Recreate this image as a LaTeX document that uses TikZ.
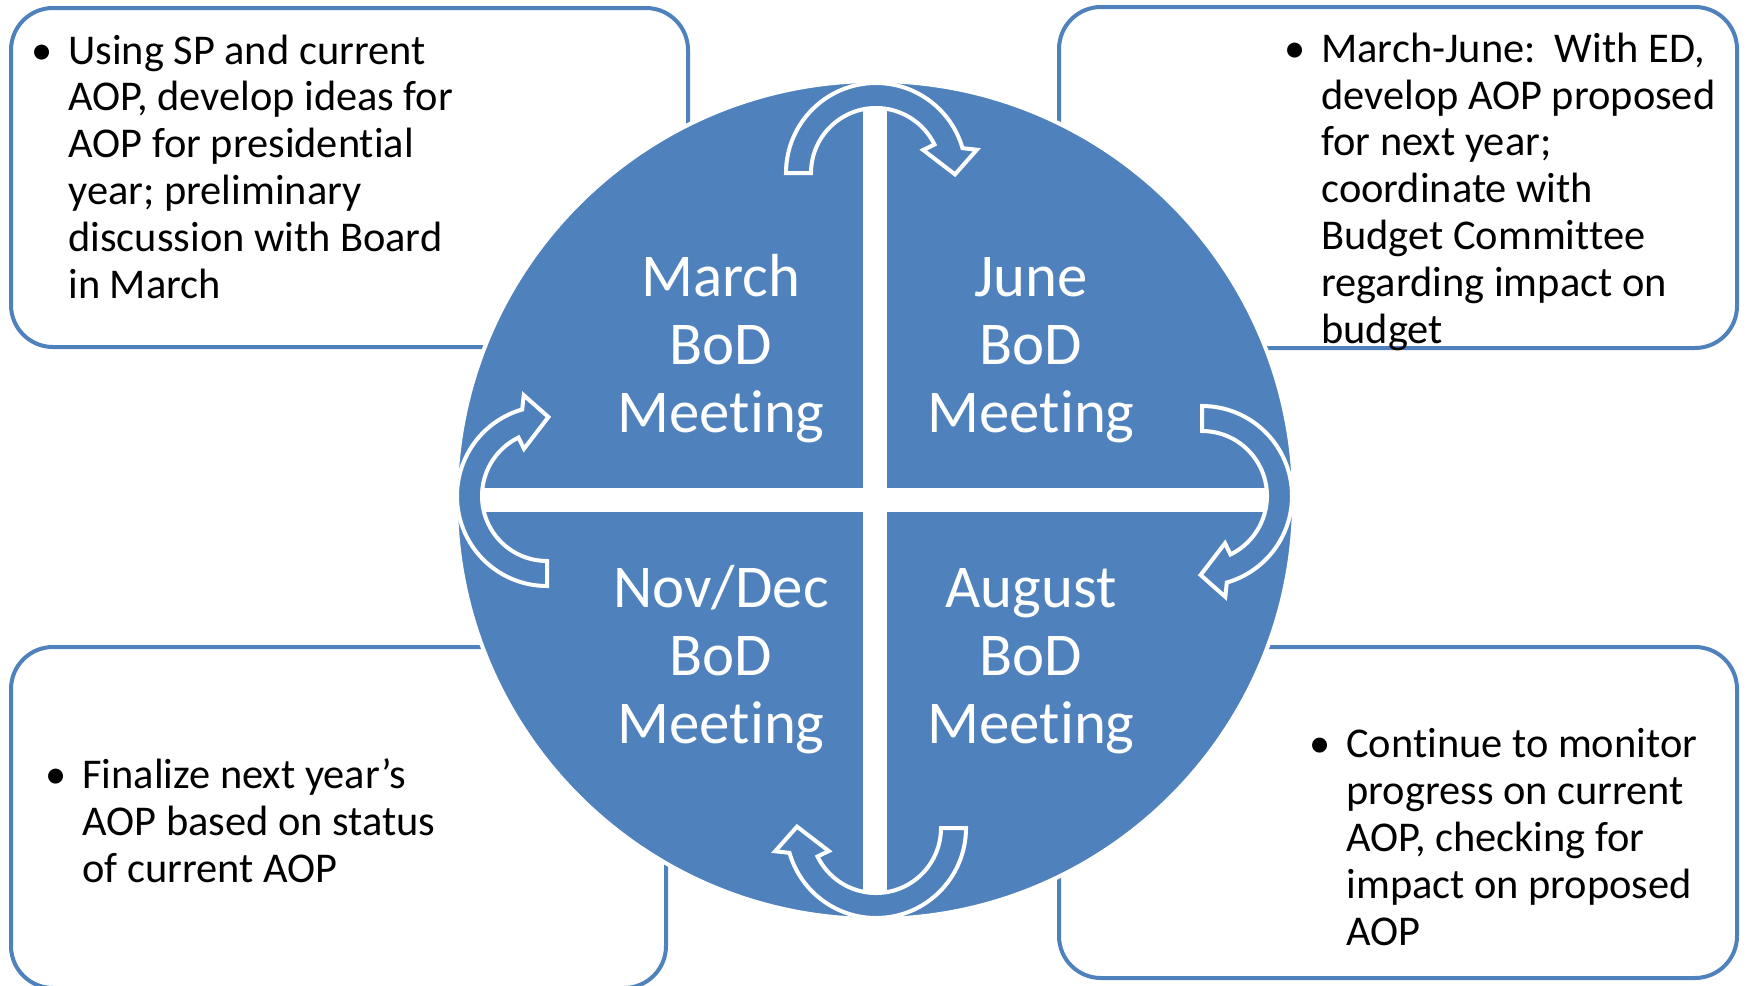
\documentclass[tikz,border=0pt]{standalone}
\usepackage{fontspec}
\setmainfont{Carlito}[Ligatures=NoCommon]
\definecolor{ablue}{HTML}{4F81BD}
\tikzset{
  box/.style={draw=ablue, line width=2pt, rounded corners=21pt, fill=white, inner sep=0pt},
  boxtext/.style={font=\fontsize{21.2pt}{23.4pt}\selectfont, align=left, anchor=base west, inner sep=0pt, text=black},
  qtext/.style={font=\fontsize{30.4pt}{34pt}\selectfont, align=center, anchor=base, inner sep=0pt, text=white},
  arr/.style={draw=white, line width=2pt, fill=ablue},
}
\newcommand\bul{\llap{\textbullet\hspace{8pt}}}
\newcommand\cycarrow[2]{%
  \begin{scope}[shift={#1}]
    \pgfmathsetmacro\aA{#2+164}\pgfmathsetmacro\aB{#2+167}%
    \pgfmathsetmacro\aT{#2+181}\pgfmathsetmacro\aC{#2+154}%
    \path[arr] (#2:90) arc[start angle=#2, end angle=\aA, radius=90]
      -- (\aB:103.5) -- (\aT:79) -- (\aC:52.5) -- (\aC:65)
      arc[start angle=\aC, end angle=#2, radius=65] -- cycle;
  \end{scope}}
\begin{document}
\begin{tikzpicture}[x=0.5pt,y=-0.5pt]
\useasboundingbox (0,0) rectangle (1747,986);
% boxes
\node[box, minimum width=338.5pt, minimum height=169.5pt] (bTL) at (349.5,177.5) {};
\node[box, minimum width=339pt, minimum height=170.5pt] (bTR) at (1398,177.5) {};
\node[box, minimum width=327.5pt, minimum height=170.5pt] (bBL) at (338.5,817.5) {};
\node[box, minimum width=339pt, minimum height=165.5pt] (bBR) at (1398,812.5) {};
% circle
\node[circle, fill=ablue, draw=white, line width=2pt, minimum size=419pt, inner sep=0pt] (circ) at (875,500) {};
\begin{scope}
  \clip (875,500) circle[radius=417];
  \fill[white] (863,83) rectangle (887,917);
  \fill[white] (458,488) rectangle (1292,512);
\end{scope}
% arrows
\cycarrow{(876,173)}{180}
\cycarrow{(1202,496)}{270}
\cycarrow{(876,828)}{0}
\cycarrow{(547,496)}{90}
% quadrant labels (anchored at last baseline)
\node[qtext] (qMar) at (721,432) {March\\BoD\\Meeting};
\node[qtext] (qJun) at (1031,432) {June\\BoD\\Meeting};
\node[qtext] (qNov) at (721,743) {Nov/Dec\\BoD\\Meeting};
\node[qtext] (qAug) at (1031,743) {August\\BoD\\Meeting};
% box texts (anchored at last baseline)
\node[boxtext] (tTL) at (68,298) {\bul Using SP and current\\AOP, develop ideas for\\AOP for presidential\\year; preliminary\\discussion with Board\\in March};
\node[boxtext] (tTR) at (1321,343) {\bul March-June:\ \ With ED,\\develop AOP proposed\\for next year;\\coordinate with\\Budget Committee\\regarding impact on\\budget};
\node[boxtext] (tBL) at (82,882) {\bul Finalize next year’s\\AOP based on status\\of current AOP};
\node[boxtext] (tBR) at (1346,945) {\bul Continue to monitor\\progress on current\\AOP, checking for\\impact on proposed\\AOP};
\end{tikzpicture}
\end{document}
